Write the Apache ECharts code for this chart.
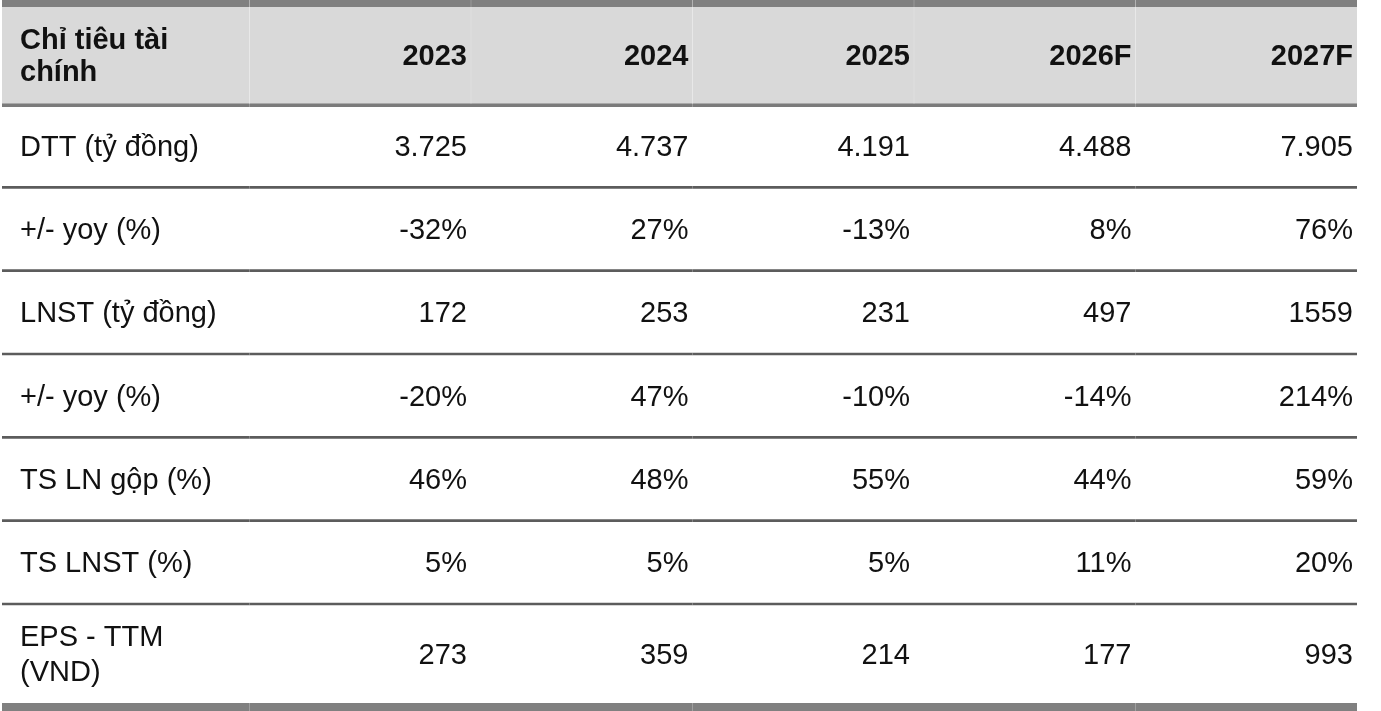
<!DOCTYPE html>
<html>
<head>
<meta charset="utf-8">
<title>Chỉ tiêu tài chính</title>
<script src="https://cdn.jsdelivr.net/npm/echarts@6/dist/echarts.min.js"></script>
<style>
  html, body {margin: 0; padding: 0; background: #fff;}
  #table-chart {width: 1381px; height: 711px;}
</style>
</head>
<body>
<div id="table-chart"></div>
<script>
/* --------------------------------------------------------
 Data
 -----------------------------------------------------------*/
var headerLabel = 'Chỉ tiêu tài\nchính';
var years = ['2023', '2024', '2025', '2026F', '2027F'];
var rowLabels = ['DTT (tỷ đồng)', '+/- yoy (%)', 'LNST (tỷ đồng)', '+/- yoy (%)', 'TS LN gộp (%)', 'TS LNST (%)', 'EPS - TTM\n(VND)'];

var dtt = [3725, 4737, 4191, 4488, 7905];
var dttYoy = [-32, 27, -13, 8, 76];
var lnst = [172, 253, 231, 497, 1559];
var lnstYoy = [-20, 47, -10, -14, 214];
var grossMargin = [46, 48, 55, 44, 59];
var netMargin = [5, 5, 5, 11, 20];
var eps = [273, 359, 214, 177, 993];

function fmtThousand(v) {
  return String(v).replace(/\B(?=(\d{3})+(?!\d))/g, '.');
}
function fmtPct(v) {
  return v + '%';
}
function fmtPlain(v) {
  return String(v);
}

// row values + how each row is printed
var rowValues = [dtt, dttYoy, lnst, lnstYoy, grossMargin, netMargin, eps];
var rowFormats = [fmtThousand, fmtPct, fmtPlain, fmtPct, fmtPct, fmtPct, fmtPlain];

/* --------------------------------------------------------
 Table
 -----------------------------------------------------------*/
var columns = [''].concat(years);
var font = 'Liberation Sans, Arial, Helvetica, sans-serif';

function cellText(part, col, row) {
  if (part === 'header') {
    return col === 0 ? headerLabel : years[col - 1];
  }
  var r = part === 'body' ? row : 6;
  if (col === 0) return rowLabels[r];
  return rowFormats[r](rowValues[r][col - 1]);
}

function renderCell(part) {
  return function (params, api) {
    var col = api.value(0), row = api.value(1);
    var c = api.coord([col, row]);
    var w = api.size([1, 0])[0];
    var h = api.size([0, 1])[1];
    var cs = params.coordSys;
    var x0 = col === 0 ? cs.x - 26 : c[0] - w / 2;
    var x1 = c[0] + w / 2;
    var top = c[1] - h / 2, bot = c[1] + h / 2;
    var children = [];

    if (part === 'header') {
      children.push({type: 'rect', shape: {x: x0, y: top, width: x1 - x0, height: h}, style: {fill: '#d9d9d9'}});
      children.push({type: 'rect', shape: {x: x0, y: top - 7, width: x1 - x0, height: 7}, style: {fill: '#808080'}});
      children.push({type: 'rect', shape: {x: x0, y: bot - 0.5, width: x1 - x0, height: 3.5}, style: {fill: '#7b7b7b'}});
      if (col > 0) {
        children.push({type: 'rect', shape: {x: x0 - 0.5, y: top - 7, width: 1, height: h + 7}, style: {fill: 'rgba(255,255,255,0.2)'}});
      }
    } else if (part === 'body') {
      children.push({type: 'rect', shape: {x: x0, y: bot - 1.3, width: x1 - x0, height: 2.6}, style: {fill: '#5c5c5c'}});
    } else {
      children.push({type: 'rect', shape: {x: x0, y: bot, width: x1 - x0, height: 8}, style: {fill: '#808080'}});
    }

    children.push({
      type: 'text',
      style: {
        x: col === 0 ? cs.x - 8 : x1 - 4,
        y: c[1] + (part === 'header' ? 1 : 2),
        text: cellText(part, col, row),
        align: col === 0 ? 'left' : 'right',
        verticalAlign: 'middle',
        fontFamily: font,
        fontSize: 29,
        fontWeight: part === 'header' ? 'bold' : 'normal',
        lineHeight: part === 'header' ? 32 : 35,
        fill: '#111'
      }
    });
    return {type: 'group', children: children};
  };
}

function cells(rows) {
  var data = [];
  for (var r = 0; r < rows; r++) {
    for (var c = 0; c < columns.length; c++) {
      data.push([c, r]);
    }
  }
  return data;
}

var chart = echarts.init(document.getElementById('table-chart'));

var hiddenX = function (i) {
  return {type: 'category', gridIndex: i, data: columns, show: false};
};
var hiddenY = function (i, data) {
  return {type: 'category', gridIndex: i, data: data, inverse: true, show: false};
};

chart.setOption({
  animation: false,
  grid: [
    {left: 28, right: 24, top: 7, height: 97},
    {left: 28, right: 24, top: 104, height: 500},
    {left: 28, right: 24, top: 604, height: 99}
  ],
  xAxis: [hiddenX(0), hiddenX(1), hiddenX(2)],
  yAxis: [
    hiddenY(0, ['header']),
    hiddenY(1, rowLabels.slice(0, 6)),
    hiddenY(2, rowLabels.slice(6))
  ],
  series: [
    {type: 'custom', xAxisIndex: 0, yAxisIndex: 0, renderItem: renderCell('header'), data: cells(1)},
    {type: 'custom', xAxisIndex: 1, yAxisIndex: 1, renderItem: renderCell('body'), data: cells(6)},
    {type: 'custom', xAxisIndex: 2, yAxisIndex: 2, renderItem: renderCell('footer'), data: cells(1)}
  ]
});

window.addEventListener('resize', function () {
  if (chart != null && chart != undefined) {
    chart.resize();
  }
});
</script>
</body>
</html>
